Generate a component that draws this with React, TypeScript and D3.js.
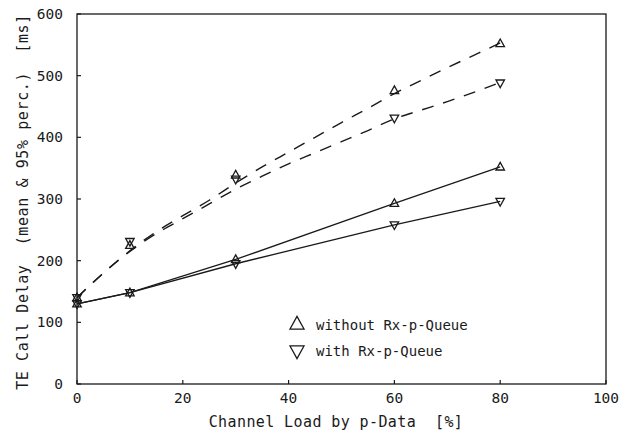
import React from "react";
import * as d3 from "d3";

const loads = [0, 10, 30, 60, 80];
const meanWithout = [130, 148, 202, 293, 352];
const meanWith = [130, 148, 195, 258, 296];
const p95Without = [140, 225, 339, 476, 552];
const p95With = [140, 231, 332, 431, 488];

const fitLoads = [0, 5, 10, 15, 20, 25, 30, 35, 40, 45, 50, 55, 60, 65, 70, 75, 80];
const fitWithout = [140, 180, 216, 247, 273, 298, 326, 352, 376, 400, 424, 447, 471, 492, 513, 533, 553];
const fitWith = [140, 180, 215, 244, 268, 292, 316, 337, 357, 375, 393, 411, 430, 444, 458, 473, 489];

const xTicks = [0, 20, 40, 60, 80, 100];
const yTicks = [0, 100, 200, 300, 400, 500, 600];

const legendItems = ["without Rx-p-Queue", "with Rx-p-Queue"];

const W = 635, H = 433;
const L = 77, R = 606, T = 14, B = 384;
const ink = "#1a1a1a";
const font = "'DejaVu Sans Mono', monospace";

function tri(cx: number, cy: number, s: number, up: boolean) {
  const h = s * 0.9;
  if (up) {
    return `M${cx},${cy - h * 0.6}L${cx + s / 2},${cy + h * 0.4}L${cx - s / 2},${cy + h * 0.4}Z`;
  }
  return `M${cx},${cy + h * 0.6}L${cx + s / 2},${cy - h * 0.4}L${cx - s / 2},${cy - h * 0.4}Z`;
}

export default function App() {
  const x = d3.scaleLinear().domain([0, 100]).range([L, R]);
  const y = d3.scaleLinear().domain([0, 600]).range([B, T]);

  const solid = d3.line<number>().x((_, i) => x(loads[i])).y((d) => y(d)).curve(d3.curveLinear);
  const dashed = d3.line<number>().x((_, i) => x(fitLoads[i])).y((d) => y(d)).curve(d3.curveMonotoneX);

  const markers = (vals: number[], up: boolean, key: string) =>
    vals.map((v, i) => (
      <path key={key + i} d={tri(x(loads[i]), y(v), 8.5, up)} fill="none" stroke={ink} strokeWidth={1.3} />
    ));

  return (
    <svg width={W} height={H} style={{ position: "absolute", left: 0, top: 0, background: "#fff" }}>
      <rect x={0} y={0} width={W} height={H} fill="#fff" />
      <rect x={L} y={T} width={R - L} height={B - T} fill="none" stroke={ink} strokeWidth={1.3} />
      {xTicks.map((t) => (
        <g key={"xt" + t}>
          <line x1={x(t)} x2={x(t)} y1={B} y2={B - 4} stroke={ink} strokeWidth={1.2} />
          <text x={x(t)} y={403} textAnchor="middle" fontFamily={font} fontSize={14.5} fill={ink}>{t}</text>
        </g>
      ))}
      {yTicks.map((t) => (
        <g key={"yt" + t}>
          <line x1={L} x2={L + 4} y1={y(t)} y2={y(t)} stroke={ink} strokeWidth={1.2} />
          <text x={63} y={y(t) + 5} textAnchor="end" fontFamily={font} fontSize={14.5} fill={ink}>{t}</text>
        </g>
      ))}
      <text x={336} y={427} textAnchor="middle" fontFamily={font} fontSize={15} letterSpacing={0.4} fill={ink} style={{ whiteSpace: "pre" }}>
        {"Channel Load by p-Data  [%]"}
      </text>
      <text transform={`translate(28,202) rotate(-90)`} textAnchor="middle" fontFamily={font} fontSize={15} letterSpacing={0.6} fill={ink} style={{ whiteSpace: "pre" }}>
        {"TE Call Delay  (mean & 95% perc.)  [ms]"}
      </text>
      <path d={dashed(fitWithout) || ""} fill="none" stroke={ink} strokeWidth={1.4} strokeDasharray="12 10" />
      <path d={dashed(fitWith) || ""} fill="none" stroke={ink} strokeWidth={1.4} strokeDasharray="12 10" />
      <path d={solid(meanWithout) || ""} fill="none" stroke={ink} strokeWidth={1.3} />
      <path d={solid(meanWith) || ""} fill="none" stroke={ink} strokeWidth={1.3} />
      {markers(meanWithout, true, "mwo")}
      {markers(meanWith, false, "mw")}
      {markers(p95Without, true, "pwo")}
      {markers(p95With, false, "pw")}
      {legendItems.map((lab, i) => (
        <g key={lab}>
          <path d={tri(297, 324 + i * 27, 14, i === 0)} fill="none" stroke={ink} strokeWidth={1.3} />
          <text x={316} y={330 + i * 26} fontFamily={font} fontSize={14} fill={ink}>{lab}</text>
        </g>
      ))}
    </svg>
  );
}
